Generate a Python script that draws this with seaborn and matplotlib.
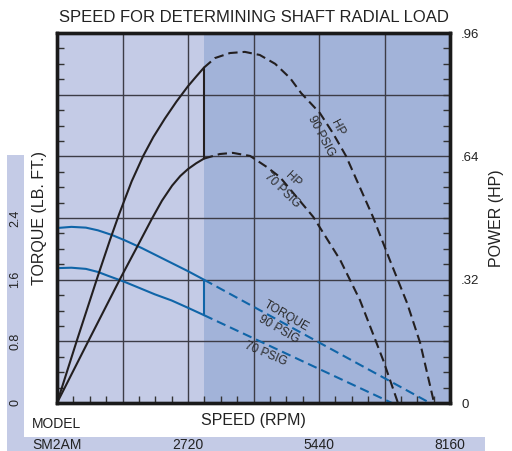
import numpy as np
import pandas as pd
import seaborn as sns
import matplotlib
matplotlib.use("Agg")
import matplotlib.pyplot as plt
from matplotlib.ticker import MultipleLocator
from matplotlib.patches import Rectangle
import matplotlib.transforms as mtransforms

# ---------------- data ----------------
SOLID_LIMIT = 3050          # rpm where curves switch from solid to dashed
SPEED_MAX = 8160
TORQUE_MAX = 4.8
HP_MAX = 0.96

# torque curves (lb.ft.)
speed_t90 = [0, 300, 600, 850, 1140, 1410, 1760, 2240, 2720, 3050]
torque_t90 = [2.27, 2.285, 2.275, 2.24, 2.18, 2.11, 2.01, 1.86, 1.71, 1.60]
speed_t90_ext = [3050, 7745]
torque_t90_ext = [1.60, 0.0]

speed_t70 = [0, 300, 600, 850, 1060, 1410, 2030, 2380, 2720, 3050]
torque_t70 = [1.75, 1.755, 1.74, 1.70, 1.65, 1.57, 1.41, 1.33, 1.235, 1.14]
speed_t70_ext = [3050, 6955]
torque_t70_ext = [1.14, 0.0]

# power curves (HP)
speed_hp90 = [0, 420, 850, 1100, 1290, 1550, 1790, 2000, 2240, 2480, 2720, 2890, 3050]
hp_90 = [0.0, 0.165, 0.330, 0.423, 0.490, 0.575, 0.641, 0.690, 0.738, 0.782, 0.822,
         0.847, 0.870]
speed_hp90_ext = [3050, 3280, 3590, 3900, 4210, 4530, 4840, 5070, 5460,
                  5730, 6000, 6560, 6910, 7270, 7540, 7830]
hp_90_ext = [0.870, 0.895, 0.908, 0.911, 0.903, 0.880, 0.843, 0.804, 0.752,
             0.700, 0.641, 0.483, 0.371, 0.259, 0.156, 0.0]

speed_hp70 = [0, 640, 1310, 1650, 1970, 2180, 2390, 2560, 2720, 2890, 3050]
hp_70 = [0.0, 0.158, 0.322, 0.402, 0.478, 0.525, 0.564, 0.589, 0.607, 0.622, 0.634]
speed_hp70_ext = [3050, 3380, 3650, 4010, 4360, 4630, 5320, 5880, 6290, 6770, 7080]
hp_70_ext = [0.634, 0.646, 0.649, 0.641, 0.612, 0.586, 0.483, 0.371, 0.267, 0.112, 0.0]

# tick labels
torque_ticks = [0, 0.8, 1.6, 2.4]
torque_labels = ["0", "0.8", "1.6", "2.4"]
hp_ticks = [0, 0.32, 0.64, 0.96]
hp_labels = ["0", ".32", ".64", ".96"]
speed_ticks = [2720, 5440, 8160]
speed_labels = ["2720", "5440", "8160"]
model_name = "SM2AM"

# ---------------- style ----------------
sns.set_theme(style="white")
plt.rcParams["font.family"] = ["Liberation Sans", "DejaVu Sans"]

LIGHT = "#c4cbe6"
DARK = "#a2b3d9"
BLUE = "#1065a8"
BLACK = "#231f20"
GRID = "#3c3c46"
TXT = "#222222"
LW = 1.5
DASH = (0, (4.5, 2.4))

W, H = 512, 451
fig = plt.figure(figsize=(W / 100, H / 100), dpi=100, facecolor="white")
ax = fig.add_axes([57 / W, 1 - 403 / H, 393 / W, 370 / H])
ax2 = ax.twinx()

# decorative label bands (drawn beneath everything)
fig.patches.append(Rectangle((7 / W, 0), 17 / W, 1 - 155 / H, transform=fig.transFigure,
                             facecolor=LIGHT, edgecolor="none", zorder=-1))
fig.patches.append(Rectangle((7 / W, 0), (485 - 7) / W, 14 / H, transform=fig.transFigure,
                             facecolor=LIGHT, edgecolor="none", zorder=-1))

# background bands
ax.axvspan(0, SOLID_LIMIT, color=LIGHT, zorder=0.1, lw=0)
ax.axvspan(SOLID_LIMIT, SPEED_MAX, color=DARK, zorder=0.1, lw=0)

ax.xaxis.set_major_locator(MultipleLocator(SPEED_MAX / 6))
ax.yaxis.set_major_locator(MultipleLocator(TORQUE_MAX / 6))
ax.xaxis.set_minor_locator(MultipleLocator(SPEED_MAX / 24))
ax.yaxis.set_minor_locator(MultipleLocator(TORQUE_MAX / 24))
ax.set_axisbelow(True)
ax.grid(True, which="major", color=GRID, lw=1.0)
ax.tick_params(which="major", length=0, labelbottom=False, labelleft=False)
ax.tick_params(which="minor", direction="in", length=5, width=1, color="#333333",
               bottom=True, left=True, top=False, right=False)

ax2.set_yticks(hp_ticks)
ax2.set_yticklabels(hp_labels)
ax2.yaxis.set_minor_locator(MultipleLocator(HP_MAX / 24))
ax2.tick_params(which="major", length=0, pad=8, labelsize=9.5, labelcolor=TXT)
ax2.tick_params(which="minor", direction="in", length=5, width=1, color="#333333",
                right=True, left=False)
ax2.grid(False)

for a in (ax, ax2):
    for s in a.spines.values():
        s.set_linewidth(2.4)
        s.set_color("#1a1a1a")

# ---------------- curves ----------------
sns.lineplot(x=speed_t90, y=torque_t90, ax=ax, color=BLUE, lw=LW, sort=False, zorder=3)
sns.lineplot(x=speed_t70, y=torque_t70, ax=ax, color=BLUE, lw=LW, sort=False, zorder=3)
sns.lineplot(x=speed_t90_ext, y=torque_t90_ext, ax=ax, color=BLUE, lw=LW, sort=False,
             linestyle=DASH, zorder=3)
sns.lineplot(x=speed_t70_ext, y=torque_t70_ext, ax=ax, color=BLUE, lw=LW, sort=False,
             linestyle=DASH, zorder=3)
ax.vlines(SOLID_LIMIT, torque_t70[-1], torque_t90[-1], color=BLUE, lw=LW, zorder=3)

sns.lineplot(x=speed_hp90, y=hp_90, ax=ax2, color=BLACK, lw=LW, sort=False)
sns.lineplot(x=speed_hp70, y=hp_70, ax=ax2, color=BLACK, lw=LW, sort=False)
sns.lineplot(x=speed_hp90_ext, y=hp_90_ext, ax=ax2, color=BLACK, lw=LW, sort=False,
             linestyle=DASH)
sns.lineplot(x=speed_hp70_ext, y=hp_70_ext, ax=ax2, color=BLACK, lw=LW, sort=False,
             linestyle=DASH)
ax2.vlines(SOLID_LIMIT, hp_70[-1], hp_90[-1], color=BLACK, lw=LW)

ax.set_xlim(0, SPEED_MAX)
ax.set_ylim(0, TORQUE_MAX)
ax2.set_ylim(0, HP_MAX)
ax.set_xlabel("")
ax.set_ylabel("")
ax2.set_ylabel("")

# curve annotations
lab = dict(ha="center", va="center", rotation_mode="anchor", fontsize=8.5,
           color="#2a2a2a", multialignment="center")
ax2.text(5650, 0.704, "HP\n90 PSIG", rotation=-62, linespacing=1.7, **lab)
ax2.text(4790, 0.566, "HP\n70 PSIG", rotation=-44, linespacing=1.4, **lab)
ax.text(4680, 1.04, "TORQUE\n90 PSIG", rotation=-30, linespacing=1.3, **lab)
ax.text(4340, 0.636, "70 PSIG", rotation=-23, **lab)

# ---------------- titles and labels ----------------
ax.set_title("SPEED FOR DETERMINING SHAFT RADIAL LOAD", fontsize=12, pad=8, color=TXT)

tr_ax_y = mtransforms.blended_transform_factory(fig.transFigure, ax.transAxes)
tr_ax_x = mtransforms.blended_transform_factory(ax.transAxes, fig.transFigure)
fig.text(40 / W, 0.5, "TORQUE (LB. FT.)", transform=tr_ax_y, rotation=90,
         ha="center", va="center", fontsize=11.5, color=TXT)
fig.text(496 / W, 0.5, "POWER (HP)", transform=tr_ax_y, rotation=90,
         ha="center", va="center", fontsize=11.5, color=TXT)
fig.text(0.5, 1 - 420 / H, "SPEED (RPM)", transform=tr_ax_x,
         ha="center", va="center", fontsize=11.5, color=TXT)

# torque tick labels in the left band
tr_left = mtransforms.blended_transform_factory(fig.transFigure, ax.transData)
for v, t in zip(torque_ticks, torque_labels):
    fig.text(15.5 / W, v, t, transform=tr_left, rotation=90, ha="center", va="center",
             fontsize=9, color=TXT)

# speed tick labels in the bottom band
tr_bot = mtransforms.blended_transform_factory(ax.transData, fig.transFigure)
for v, t in zip(speed_ticks, speed_labels):
    fig.text(v, 1 - 445 / H, t, transform=tr_bot, ha="center", va="center",
             fontsize=10, color=TXT)

fig.text(32 / W, 1 - 424 / H, "MODEL", ha="left", va="center", fontsize=10, color=TXT)
fig.text(32 / W, 1 - 445 / H, model_name, ha="left", va="center", fontsize=10, color=TXT)

fig.savefig("out.png", dpi=100, facecolor="white")
